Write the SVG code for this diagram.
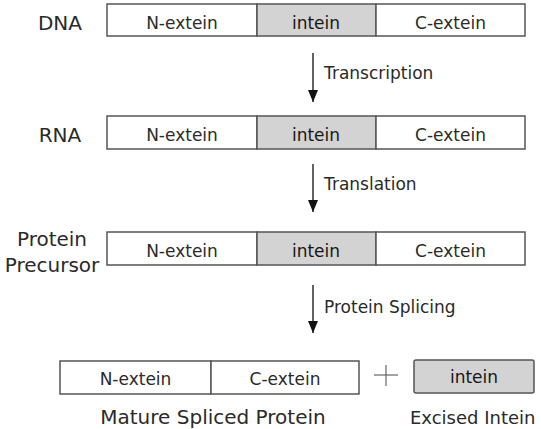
<svg xmlns="http://www.w3.org/2000/svg" width="541" height="429" viewBox="0 0 541 429">
<style>
  text { font-family: "DejaVu Sans", "Liberation Sans", sans-serif; fill: #2a2a2a; }
  .lbl { font-size: 20px; text-anchor: middle; }
  .in { font-size: 17px; text-anchor: middle; }
  .arr { font-size: 17px; }
  .ext { fill: #ffffff; stroke: #555555; stroke-width: 1.5; }
  .int { fill: #d3d3d3; stroke: #555555; stroke-width: 1.5; }
  .intxt { fill: #161616; }
  .conn { stroke: #222222; stroke-width: 1.4; fill: none; }
  .plus { stroke: #666666; stroke-width: 1.2; fill: none; }
</style>
<defs>
  <marker id="ah" viewBox="0 0 12 10" refX="12" refY="5" markerWidth="12" markerHeight="10" markerUnits="userSpaceOnUse" orient="auto">
    <path d="M0,0 L12,5 L0,10 Z" fill="#111111"/>
  </marker>
</defs>
<rect width="541" height="429" fill="#ffffff"/>

<g id="label-dna"><text class="lbl" x="60" y="30">DNA</text></g>
<g id="dna">
  <g id="dna-n"><rect class="ext" x="107" y="4" width="150" height="32"/><text class="in" x="182" y="28.5">N-extein</text></g>
  <g id="dna-i"><rect class="int" x="257" y="4" width="119" height="32"/><text class="in intxt" x="316" y="28.5">intein</text></g>
  <g id="dna-c"><rect class="ext" x="376" y="4" width="149" height="32"/><text class="in" x="450.5" y="28.5">C-extein</text></g>
</g>

<g id="label-rna"><text class="lbl" x="60" y="142">RNA</text></g>
<g id="rna">
  <g id="rna-n"><rect class="ext" x="107" y="116" width="150" height="33"/><text class="in" x="182" y="140.5">N-extein</text></g>
  <g id="rna-i"><rect class="int" x="257" y="116" width="119" height="33"/><text class="in intxt" x="316" y="140.5">intein</text></g>
  <g id="rna-c"><rect class="ext" x="376" y="116" width="149" height="33"/><text class="in" x="450.5" y="140.5">C-extein</text></g>
</g>

<g id="label-precursor">
  <text class="lbl" x="52" y="246">Protein</text>
  <text class="lbl" x="52" y="272">Precursor</text>
</g>
<g id="precursor">
  <g id="pre-n"><rect class="ext" x="107" y="232" width="150" height="33"/><text class="in" x="182" y="256.5">N-extein</text></g>
  <g id="pre-i"><rect class="int" x="257" y="232" width="119" height="33"/><text class="in intxt" x="316" y="256.5">intein</text></g>
  <g id="pre-c"><rect class="ext" x="376" y="232" width="149" height="33"/><text class="in" x="450.5" y="256.5">C-extein</text></g>
</g>

<g id="mature">
  <g id="mat-n"><rect class="ext" x="60" y="361" width="151" height="33"/><text class="in" x="135.5" y="384.5">N-extein</text></g>
  <g id="mat-c"><rect class="ext" x="211" y="361" width="148" height="33"/><text class="in" x="285" y="384.5">C-extein</text></g>
</g>
<g id="label-mature"><text class="lbl" x="213" y="424">Mature Spliced Protein</text></g>

<g id="plus">
  <line class="plus" x1="374" y1="375" x2="398" y2="375"/>
  <line class="plus" x1="386" y1="365" x2="386" y2="386"/>
</g>

<g id="excised">
  <rect class="int" x="414" y="360" width="120" height="33" rx="2" fill="#cbcbcb"/>
  <text class="in intxt" x="474" y="383">intein</text>
</g>
<g id="label-excised"><text x="410" y="424" style="font-size:18px">Excised Intein</text></g>

<g id="connectors">
  <line class="conn" x1="313" y1="53" x2="313" y2="102" marker-end="url(#ah)"/>
  <text class="arr" x="324" y="79">Transcription</text>
  <line class="conn" x1="313" y1="164" x2="313" y2="212" marker-end="url(#ah)"/>
  <text class="arr" x="324" y="190">Translation</text>
  <line class="conn" x1="313" y1="285" x2="313" y2="333" marker-end="url(#ah)"/>
  <text class="arr" x="324" y="313">Protein Splicing</text>
</g>
</svg>
